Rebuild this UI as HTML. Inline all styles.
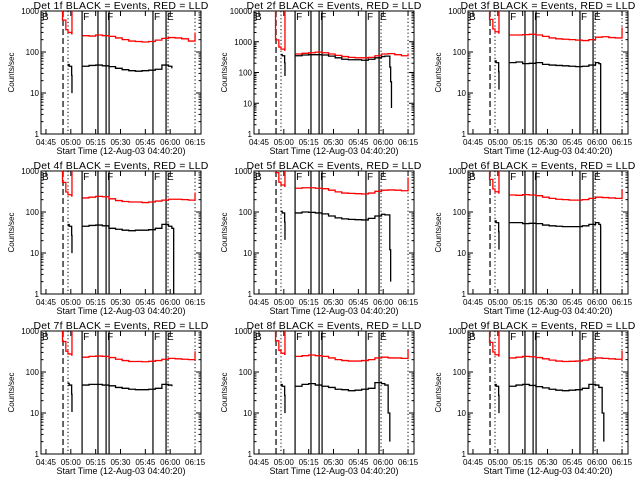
<!DOCTYPE html>
<html><head><meta charset="utf-8"><style>
html,body{margin:0;padding:0;background:#fff;}
svg{display:block;font-family:"Liberation Sans",sans-serif;}
</style></head><body>
<svg id="fig" width="640" height="480" viewBox="0 0 640 480" xmlns="http://www.w3.org/2000/svg"></svg>
<script>
// shared time grid (minutes since midnight)
const T = [307,311,315,319,323,327,331,335,339,343,347,351,355,359,363,367,371,375];
const solidLines = [306.8,316.4,321.3,323.1,349.6,357.5];
const dottedLines = [298.3,358.7,375];
const dashedLines = [295.3];
const xTicks = [285,300,315,330,345,360,375];
const xTickLabels = ["04:45","05:00","05:15","05:30","05:45","06:00","06:15"];
const markerTimes = [306.8,321.3,349.6,357.5];
const markerLetters = ["F","F","F","E"];
const detNames = ["1f","2f","3f","4f","5f","6f","7f","8f","9f"];
const yMaxDec = [3,4,3,3,3,3,3,3,3];
const redVals = [
 [250,245,260,250,240,220,200,185,180,175,180,195,215,225,220,210,185,300],
 [400,420,440,460,440,400,360,330,310,300,300,310,350,400,410,380,350,420],
 [260,260,265,270,260,240,220,210,205,200,195,190,200,230,235,225,220,400],
 [220,230,240,235,210,190,180,175,175,170,175,185,195,205,205,200,195,300],
 [380,390,390,380,370,340,310,290,285,280,275,290,320,340,345,340,330,700],
 [260,255,265,260,250,230,215,205,200,195,195,200,215,230,225,220,215,350],
 [230,240,245,240,225,205,190,180,180,178,182,190,205,215,210,205,200,320],
 [240,250,260,250,240,220,200,190,185,185,190,200,220,230,220,220,215,350],
 [220,230,240,235,225,210,195,185,180,182,185,195,210,220,215,210,205,330]
];
const blackVals = [
 [45,47,48,46,44,40,37,35,34,35,36,38,48,45,40],
 [350,370,380,380,370,340,300,270,260,260,250,270,300,330,340],
 [55,57,52,53,55,50,48,47,46,45,44,45,48,55,52],
 [45,47,48,46,40,38,36,35,36,36,37,40,50,45,40],
 [95,100,98,95,90,80,72,68,66,65,64,70,80,88,85],
 [55,55,52,53,52,48,46,45,44,44,44,46,50,55,50],
 [48,50,50,48,46,42,40,38,37,37,38,40,50,48,45],
 [45,50,52,48,45,42,38,37,35,36,38,40,55,52,48],
 [45,48,50,47,44,41,38,36,35,36,37,40,50,48,42]
];
const blackTailT = [[],[364,364.5,365],[362,362.1],[362,362.1],[364,364.5],[362,362.1],[],[363,364],[363,364]];
const blackTailV = [[],[150,50,7],[50,0.5],[40,0.5],[12,2],[45,0.5],[],[10,2],[10,2]];
const redEarlyT = [293.5,295,297,298.3,300.5,300.7];
const redEarlyF = [1.2,0.6,0.35,0.3,0.28,1.2]; // fraction of main level
const blackEarlyT = [298,299,300.5,300.7];
const blackEarlyF = [1.1,1.0,0.6,0.22];

const NS="http://www.w3.org/2000/svg";
const svg=document.getElementById('fig');
function mk(tag,attrs,parent){const e=document.createElementNS(NS,tag);for(const k in attrs)e.setAttribute(k,attrs[k]);(parent||svg).appendChild(e);return e;}

const tMin=282,tMax=378.6;
for(let p=0;p<9;p++){
  const col=p%3,row=Math.floor(p/3);
  const ox=[0,213,427][col],oy=row*160;
  const bx=ox+41,by=oy+11,bw=160,bh=123;
  const dec=yMaxDec[p];
  const X=t=>bx+(t-tMin)/(tMax-tMin)*bw;
  const Y=v=>{let l=Math.log10(Math.max(v,0.5));l=Math.min(l,dec+0.02);return by+bh-(l/dec)*bh;};
  const g=mk('g',{});
  
  
  const clipId='c'+p;
  const cp=mk('clipPath',{id:clipId},g);mk('rect',{x:bx,y:by,width:bw,height:bh},cp);
  const tt=mk('text',{x:bx+bw/2,y:oy+9,'font-size':10.5,'text-anchor':'middle',fill:'#000','letter-spacing':'0.2'},g);
  tt.textContent='Det '+detNames[p]+' BLACK = Events, RED = LLD';
  
  
  const fr=mk('rect',{x:bx,y:by,width:bw,height:bh,fill:'none',stroke:'#000','stroke-width':1},g);
  
  
  for(let d=0;d<=dec;d++){
    const y=Y(Math.pow(10,d));
    mk('line',{x1:bx,x2:bx+5,y1:y,y2:y,stroke:'#000'},g);
    mk('line',{x1:bx+bw-5,x2:bx+bw,y1:y,y2:y,stroke:'#000'},g);
    const lb=mk('text',{x:bx-2,y:y+3,'font-size':8,'text-anchor':'end',fill:'#000'},g);
    lb.textContent=String(Math.pow(10,d));
    
    
    if(d<dec)for(let m=2;m<10;m++){const ym=Y(m*Math.pow(10,d));
      mk('line',{x1:bx,x2:bx+2.5,y1:ym,y2:ym,stroke:'#000'},g);
      mk('line',{x1:bx+bw-2.5,x2:bx+bw,y1:ym,y2:ym,stroke:'#000'},g);}
  }
  xTicks.forEach((t,i)=>{const x=X(t);
    mk('line',{x1:x,x2:x,y1:by+bh,y2:by+bh-5,stroke:'#000'},g);
    mk('line',{x1:x,x2:x,y1:by,y2:by+5,stroke:'#000'},g);
    const lb=mk('text',{x:x,y:by+bh+11,'font-size':8,'text-anchor':'middle',fill:'#000'},g);
    lb.textContent=xTickLabels[i];
    
    });
  const xl=mk('text',{x:bx+bw/2,y:by+bh+20,'font-size':9,'text-anchor':'middle',fill:'#000'},g);
  xl.textContent='Start Time (12-Aug-03 04:40:20)';
  
  
  const yl=mk('text',{x:0,y:0,'font-size':8,'text-anchor':'middle',fill:'#000',transform:'translate('+(ox+14)+','+(by+bh/2)+') rotate(-90)'},g);
  yl.textContent='Counts/sec';
  
  
  const pg=mk('g',{'clip-path':'url(#'+clipId+')'},g);
  solidLines.forEach(t=>{const l=mk('line',{x1:X(t),x2:X(t),y1:by,y2:by+bh,stroke:'#000','stroke-width':1.2},pg);
    });
  dottedLines.forEach(t=>{const l=mk('line',{x1:X(t),x2:X(t),y1:by,y2:by+bh,stroke:'#000','stroke-dasharray':'1.2,2.4'},pg);
    });
  dashedLines.forEach(t=>{const l=mk('line',{x1:X(t),x2:X(t),y1:by,y2:by+bh,stroke:'#000','stroke-dasharray':'6,3','stroke-width':1.2},pg);
    });
  const bl=mk('text',{x:bx+1,y:by+9,'font-size':10,fill:'#000'},g);bl.textContent='B';
  
  markerTimes.forEach((t,i)=>{const m=mk('text',{x:X(t)+1,y:by+9,'font-size':10,fill:'#000'},g);m.textContent=markerLetters[i];
    });
  const step=(ts,vs)=>{let d='';ts.forEach((t,i)=>{const x=X(t),y=Y(vs[i]);if(i===0)d+='M'+x+','+y;else d+='H'+x+'V'+y;});return d;};
  const rMain=redVals[p];
  const redTop=Math.pow(10,dec+0.1);
  const base=rMain[0]*(p===1?1.2:1);
  const reT=redEarlyT,reV=redEarlyF.map((f,i)=>(i===0||i===reT.length-1)?redTop:base*f*4);
  const re=mk('path',{d:step(reT,reV),fill:'none',stroke:'#f00','stroke-width':1.3},pg);
  
  const rm=mk('path',{d:step(T,rMain),fill:'none',stroke:'#f00','stroke-width':1.3},pg);
  
  const bMain=blackVals[p];
  const bT=T.slice(0,bMain.length-1).concat([T[bMain.length-2]+2]);
  const bE=mk('path',{d:step(blackEarlyT,blackEarlyF.map(f=>bMain[0]*f)),fill:'none',stroke:'#000','stroke-width':1.3},pg);
  
  const fullT=bT.concat(blackTailT[p]),fullV=bMain.concat(blackTailV[p]);
  const bm=mk('path',{d:step(fullT,fullV),fill:'none',stroke:'#000','stroke-width':1.3},pg);
  
}
</script>
</body></html>
